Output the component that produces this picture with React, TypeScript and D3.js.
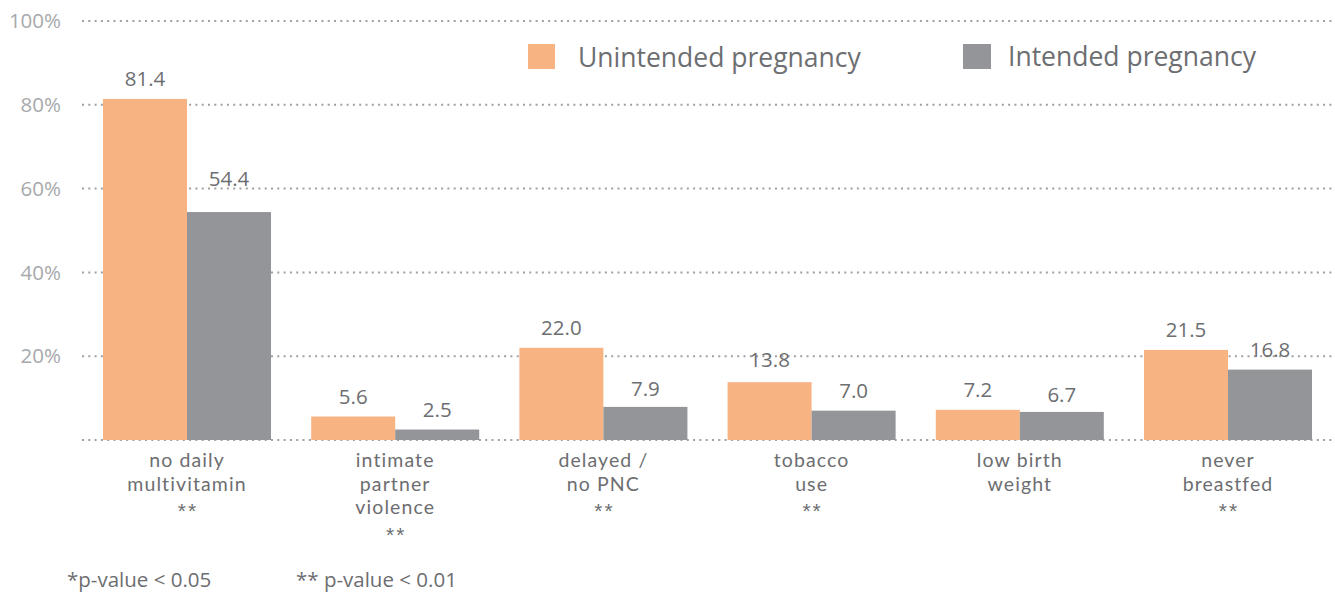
import React from "react";
import * as d3 from "d3";

const categories: string[][] = [
  ["no daily", "multivitamin"],
  ["intimate", "partner", "violence"],
  ["delayed /", "no PNC"],
  ["tobacco", "use"],
  ["low birth", "weight"],
  ["never", "breastfed"],
];
const significance = ["**", "**", "**", "**", "", "**"];
const unintended = [81.4, 5.6, 22.0, 13.8, 7.2, 21.5];
const intended = [54.4, 2.5, 7.9, 7.0, 6.7, 16.8];
const yTicks = [20, 40, 60, 80, 100];
const seriesNames = ["Unintended pregnancy", "Intended pregnancy"];
const colors = ["#F8B382", "#939598"];
// small label nudges (extra px above bar) for readability as in the original
const unintendedNudge = [0, 0, 0, 2, 0, 0];
const intendedNudge = [13, 0, -2, 0, -3, 0];

const W = 1335;
const H = 592;
const FONT = "'Open Sans', 'Noto Sans', sans-serif";
const CAT_FONT = "Lato, 'Open Sans', sans-serif";
const STAR_FONT = "'Liberation Sans', Arial, sans-serif";
const TEXT = "#6d6e71";
const AXIS = "#a7a9ac";
const LINE = 23.6;
const CAT_Y = 467;

export default function App() {
  const x = d3
    .scaleBand<number>()
    .domain(d3.range(categories.length))
    .range([82.9, 1332.1])
    .paddingInner(0.193)
    .paddingOuter(0.0965);
  const sub = d3
    .scaleBand<number>()
    .domain([0, 1])
    .range([0, x.bandwidth()]);
  const y = d3.scaleLinear().domain([0, 100]).range([440, 21]);
  const series = [unintended, intended];
  const nudges = [unintendedNudge, intendedNudge];
  const cx = (i: number) => (x(i) as number) + x.bandwidth() / 2;

  return (
    <svg
      width={W}
      height={H}
      style={{ position: "absolute", left: 0, top: 0 }}
      fontFamily={FONT}
    >
      <rect width={W} height={H} fill="#fff" />
      {[0, ...yTicks].map((t) => (
        <line
          key={"g" + t}
          x1={82}
          x2={1333}
          y1={y(t)}
          y2={y(t)}
          stroke="#a0a0a0"
          strokeWidth={2}
          strokeDasharray="2 4.3"
        />
      ))}
      {yTicks.map((t) => (
        <text
          key={"t" + t}
          x={61}
          y={y(t)}
          dy="0.35em"
          textAnchor="end"
          fontSize={20.5}
          fill={AXIS}
        >
          {t}%
        </text>
      ))}
      {series.map((vals, s) =>
        vals.map((v, i) => (
          <rect
            key={`b${s}-${i}`}
            x={(x(i) as number) + (sub(s) as number)}
            y={y(v)}
            width={sub.bandwidth()}
            height={y(0) - y(v)}
            fill={colors[s]}
          />
        ))
      )}
      {series.map((vals, s) =>
        vals.map((v, i) => (
          <text
            key={`l${s}-${i}`}
            x={(x(i) as number) + (sub(s) as number) + sub.bandwidth() / 2}
            y={y(v) - 13 - nudges[s][i]}
            textAnchor="middle"
            fontSize={20.5}
            fill={TEXT}
          >
            {v.toFixed(1)}
          </text>
        ))
      )}
      {categories.map((lines, i) =>
        lines.map((ln, j) => (
          <text
            key={`c${i}-${j}`}
            x={cx(i)}
            y={CAT_Y + j * LINE}
            textAnchor="middle"
            fontSize={19.5}
            fontFamily={CAT_FONT}
            letterSpacing={1.1}
            fill={TEXT}
          >
            {ln}
          </text>
        ))
      )}
      {significance.map((sg, i) =>
        sg ? (
          <text
            key={"s" + i}
            x={cx(i) + 1}
            y={CAT_Y + categories[i].length * LINE + 4}
            textAnchor="middle"
            fontSize={21}
            fontFamily={STAR_FONT}
            letterSpacing={2}
            fill={TEXT}
          >
            {sg}
          </text>
        ) : null
      )}
      {/* legend */}
      <rect x={528} y={44} width={27} height={25} fill={colors[0]} />
      <text x={578} y={58} dy="0.35em" fontSize={26.5} fill={TEXT}>
        {seriesNames[0]}
      </text>
      <rect x={963} y={44} width={28} height={25} fill={colors[1]} />
      <text x={1008} y={57} dy="0.35em" fontSize={26.5} fill={TEXT}>
        {seriesNames[1]}
      </text>
      {/* footnotes */}
      <text x={67} y={587} fontSize={20.5} fill={TEXT}>
        *p-value &lt; 0.05
      </text>
      <text x={296} y={587} fontSize={20.5} fill={TEXT}>
        ** p-value &lt; 0.01
      </text>
    </svg>
  );
}
